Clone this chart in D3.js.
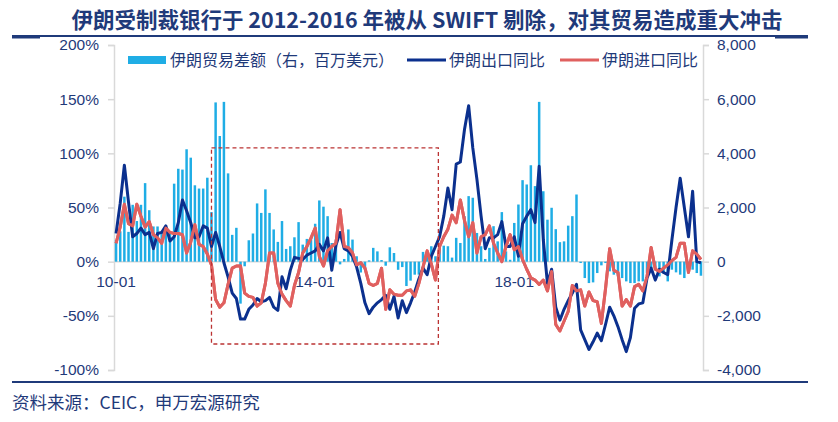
<!DOCTYPE html>
<html>
<head>
<meta charset="utf-8">
<script src="https://cdn.jsdelivr.net/npm/d3@7"></script>
<style>
  body { margin: 0; background: #fff; }
  #chart text { fill: #1f3a7a; }
</style>
</head>
<body>
<div id="chart"></div>
<script>
// monthly data, 2010-01 .. 2021-10
const startYear = 2010;
const tickLabels = ["10-01", "14-01", "18-01"];

// trade balance, right axis, USD mn
const tradeBalance = [
  800, 1120, 2400, 1100, 2100, 1500, 2100, 2900, 1900, 1300, 1300, 1060,
  1300, 1100, 2880, 3430, 3400, 4150, 3840, 2820, 2700, 2700, 3100, 1830,
  5880, 4640, 5900, 3260, 990, 1250, -1550, -170, 790, 1040, 2150, 1800,
  2670, 1800, 1190, 730, 1500, 470, 570, 900, 1460, 630, 840, 880,
  1400, 2260, 2030, 1680, 690, 815, -100, 100, 1190, 815, 200, -400,
  -250, 50, 510, 380, 60, -150, 530, 320, -300, -200, -900, -700,
  -480, -480, 360, 360, 570, 200, 690, 590, 570, 150, 880, 690,
  1680, 2420, 2360, 1060, 570, 100, 510, 1310, 750, 1830, 380, 70,
  1430, 2110, 3010, 2850, 3560, 2790, 5900, 2600, 1550, 1990, 1200, 720,
  750, 1330, 1680, 2480, -50, -605, -790, -765, -420, -136, -50, -358,
  -480, -543, -605, -728, -790, -790, -728, -728, -420, -235, -296, -543,
  -420, -728, -296, -395, -480, -605, -395, -296, -420, -519
];

// export yoy, %
const exportYoy = [
  26, 54, 89, 55, 23, 26, 31, 25, 27, 12, 26, 27,
  33, 19, 23, 36, 57, 47, 36, 22, 23, 33, 31, 14,
  27, 14, -1, -14, -29, -34, -53, -53, -44, -40, -34, -37,
  -36, -33, -42, -45, -14, -25, -8, 4, 3, 2, 6, 8,
  10, 16, 10, 22, -8, 15, 27, 12, 10, 5, -5, -20,
  -38, -48, -42, -38, -35, -31, -44, -32, -52, -36, -47, -38,
  -28, -16, -6, -12, 5, 14, 23, 42, 68, 48, 90, 92,
  122, 144, 105, 76, 42, 12, 22, 22, 25, 37, 14, 14,
  23, 5, 35, 42, 48, 36, 88, 20, -20, -7, -42, -54,
  -44, -36, -29, -21, -63, -72, -81, -74, -66, -73, -58, -42,
  -50, -60, -72, -83, -70, -43, -39, -38, -15, -6, -17, -7,
  -10, -12, 20, 50, 77, 50, 23, 65, 0, -1
];

// import yoy, %
const importYoy = [
  17, 32, 53, 35, 33, 53, 42, 32, 37, 25, 22, 17,
  31, 27, 26, 26, 25, 8, 18, 34, 16, 14, 7, -3,
  -35, -42, -38, -21, -6, -4, -4, -29, -32, -33, -41, -38,
  -20, 8, 8, -20, -30, -36, -41, -22, -10, 8, 14, 22,
  31, 5, -4, 10, 14, 17, 48, 14, 13, 8, -3, -1,
  -6, -20, -22, -20, -6, -44, -26, -30, -31, -31, -27, -26,
  -32, -20, -5, 10, -2, -17, 14, 23, 30, 43, 36, 57,
  38, 23, 36, 8, 23, 25, 33, 17, 8, 0, 14, 25,
  11, 14, 2, -7, -15, -17, -21, -17, -27, -9, -58, -64,
  -55, -46, -22, -27, -26, -41, -28, -36, -37, -57, -25, 12,
  -8, -10, -41, -35, -41, -23, -21, -27, -14, 13, -7, -9,
  -6, -3, 1, 4, 17, 17, -10, 10, 7, 2
];

// highlighted SWIFT period (month labels) and its % range
const swiftBox = { from: "11-12", to: "16-06", top: 105, bottom: -76 };

const months = tradeBalance.map((d, i) => {
  const y = startYear + Math.floor(i / 12), m = (i % 12) + 1;
  return String(y).slice(2) + "-" + String(m).padStart(2, "0");
});

const width = 838, height = 422;
const margin = { top: 45, right: 135, bottom: 52, left: 114 };
const innerW = width - margin.left - margin.right;
const innerH = height - margin.top - margin.bottom;

const colors = { bar: "#1fade5", exp: "#0b308e", imp: "#e0605f", axis: "#d9d9d9", box: "#bb3333", navy: "#1f3a7a" };
const cn = "'Noto Sans CJK SC', sans-serif";
const num = "'Liberation Sans', Arial, sans-serif";

const svg = d3.select("#chart").append("svg")
  .attr("width", width).attr("height", height)
  .style("background", "#fff");

// title + rules
svg.append("text")
  .attr("x", 427).attr("y", 28)
  .attr("text-anchor", "middle")
  .style("font-family", cn).style("font-weight", 700).style("font-size", "21.5px")
  .text("伊朗受制裁银行于 2012-2016 年被从 SWIFT 剔除，对其贸易造成重大冲击");
svg.append("line").attr("x1", 12).attr("x2", 808).attr("y1", 36).attr("y2", 36)
  .attr("stroke", colors.navy).attr("stroke-width", 2);
svg.append("line").attr("x1", 12).attr("x2", 40).attr("y1", 37).attr("y2", 37)
  .attr("stroke", colors.navy).attr("stroke-width", 3);
svg.append("line").attr("x1", 775).attr("x2", 808).attr("y1", 37).attr("y2", 37)
  .attr("stroke", colors.navy).attr("stroke-width", 3);
svg.append("line").attr("x1", 12).attr("x2", 808).attr("y1", 382).attr("y2", 382)
  .attr("stroke", colors.navy).attr("stroke-width", 2);
svg.append("text")
  .attr("x", 12).attr("y", 409)
  .style("font-family", cn).style("font-size", "17.5px")
  .text("资料来源：CEIC，申万宏源研究");

const g = svg.append("g").attr("transform", `translate(${margin.left},${margin.top})`);

const x = d3.scaleBand().domain(months).range([0, innerW]).paddingInner(0.4).paddingOuter(0.2);
const xc = m => x(m) + x.bandwidth() / 2;
const yL = d3.scaleLinear().domain([-100, 200]).range([innerH, 0]);
const yR = d3.scaleLinear().domain([-4000, 8000]).range([innerH, 0]);

const fmtR = v => d3.format(",")(v).replace("\u2212", "-");

const leftAxis = d3.axisLeft(yL).tickValues([-100, -50, 0, 50, 100, 150, 200])
  .tickSize(6).tickPadding(9).tickFormat(d => d + "%");
const rightAxis = d3.axisRight(yR).tickValues([-4000, -2000, 0, 2000, 4000, 6000, 8000])
  .tickSize(6).tickPadding(8).tickFormat(fmtR);

function styleAxis(sel) {
  sel.selectAll("path, line").attr("stroke", colors.axis).attr("stroke-width", 1.5);
  sel.selectAll("text").style("font-family", num).style("font-size", "15.5px").attr("fill", colors.navy);
}
g.append("g").call(leftAxis).call(styleAxis);
g.append("g").attr("transform", `translate(${innerW},0)`).call(rightAxis).call(styleAxis);

// zero line
g.append("line").attr("x1", 0).attr("x2", innerW)
  .attr("y1", yL(0)).attr("y2", yL(0))
  .attr("stroke", colors.axis).attr("stroke-width", 1.5);

// bars
g.selectAll(".bar").data(tradeBalance).enter().append("rect")
  .attr("class", "bar")
  .attr("x", (d, i) => x(months[i]))
  .attr("width", x.bandwidth())
  .attr("y", d => Math.min(yR(d), yR(0)))
  .attr("height", d => Math.abs(yR(d) - yR(0)))
  .attr("fill", colors.bar);

// category labels
g.selectAll(".xlab").data(tickLabels).enter().append("text")
  .attr("x", d => xc(d)).attr("y", yL(0) + 25)
  .attr("text-anchor", "middle")
  .style("font-family", num).style("font-size", "15.5px")
  .text(d => d);

const line = d3.line().x((d, i) => xc(months[i])).y(d => yL(d));
g.append("path").datum(importYoy).attr("d", line)
  .attr("fill", "none").attr("stroke", colors.imp).attr("stroke-width", 3).attr("stroke-linejoin", "round");
g.append("path").datum(exportYoy).attr("d", line)
  .attr("fill", "none").attr("stroke", colors.exp).attr("stroke-width", 3).attr("stroke-linejoin", "round");
// redraw import on top like the source
g.append("path").datum(importYoy).attr("d", line)
  .attr("fill", "none").attr("stroke", colors.imp).attr("stroke-width", 3).attr("stroke-linejoin", "round");

// dashed box for the SWIFT period
const bx0 = xc(swiftBox.from), bx1 = x(swiftBox.to) + x.step();
g.append("rect")
  .attr("x", bx0).attr("y", yL(swiftBox.top))
  .attr("width", bx1 - bx0).attr("height", yL(swiftBox.bottom) - yL(swiftBox.top))
  .attr("fill", "none").attr("stroke", colors.box).attr("stroke-width", 1.3)
  .attr("stroke-dasharray", "4,3");

// legend
const legend = svg.append("g").attr("transform", "translate(0,60)");
const items = [
  { name: "伊朗贸易差额（右，百万美元）", type: "bar", color: colors.bar, x: 128 },
  { name: "伊朗出口同比", type: "line", color: colors.exp, x: 407 },
  { name: "伊朗进口同比", type: "line", color: colors.imp, x: 560 }
];
items.forEach(it => {
  if (it.type === "bar") {
    legend.append("rect").attr("x", it.x).attr("y", -4).attr("width", 38).attr("height", 8).attr("fill", it.color);
  } else {
    legend.append("line").attr("x1", it.x).attr("x2", it.x + 39).attr("y1", 0).attr("y2", 0)
      .attr("stroke", it.color).attr("stroke-width", 3);
  }
  legend.append("text").attr("x", it.x + 42).attr("y", 0).attr("dy", "0.35em")
    .style("font-family", cn).style("font-size", "16px").text(it.name);
});
</script>
</body>
</html>
